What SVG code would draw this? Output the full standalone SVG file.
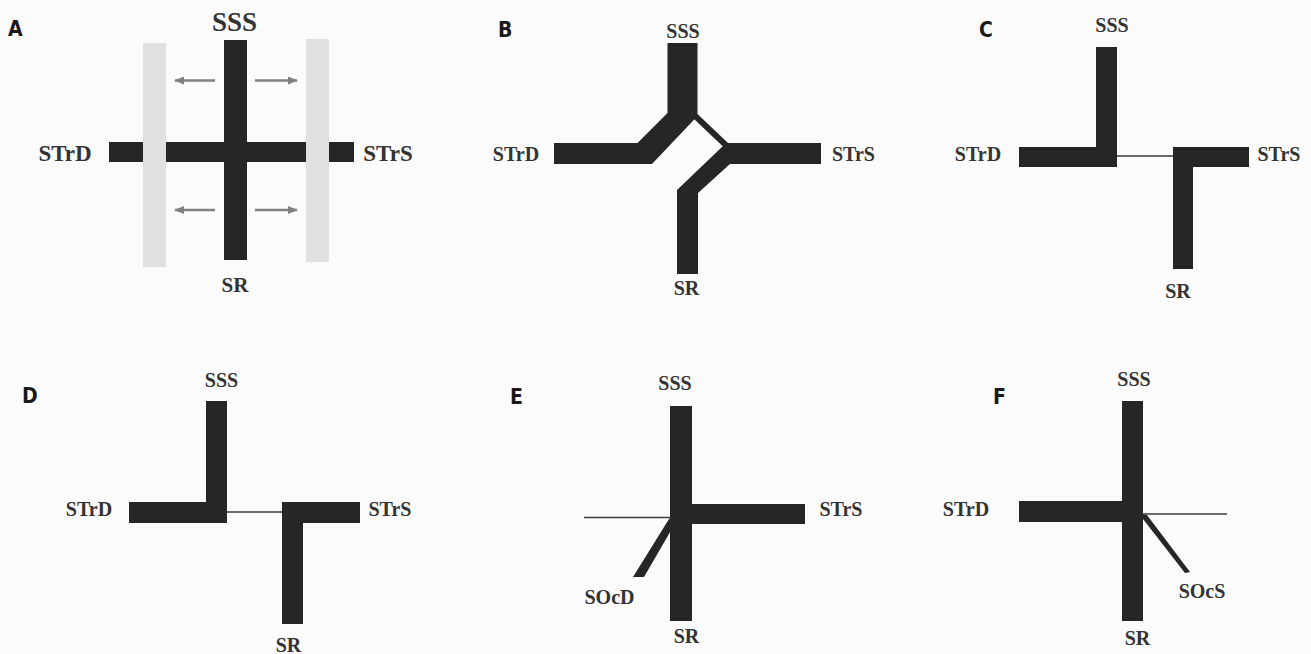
<svg xmlns="http://www.w3.org/2000/svg" width="1311" height="654" viewBox="0 0 1311 654">
  <style>
    .bg { fill: #fbfbfb; }
    .vessel { fill: #262626; }
    .band { fill: #e1e1e3; }
    .thin { stroke: #3a3a3a; stroke-width: 1.6; fill: none; }
    .arrow { stroke: #808080; stroke-width: 2.5; fill: none; marker-end: url(#ah); }
    .panel { font-family: "DejaVu Sans Condensed", "Liberation Sans", sans-serif; font-weight: bold; font-size: 21px; fill: #1a1a1a; }
    .lbl { font-family: "Liberation Serif", "Times New Roman", serif; font-weight: bold; font-size: 20px; fill: #333; text-anchor: middle; }
  </style>
  <defs>
    <marker id="ah" viewBox="0 0 10 8" refX="9" refY="4" markerWidth="10" markerHeight="8" markerUnits="userSpaceOnUse" orient="auto">
      <path d="M0,0 L10,4 L0,8 Z" fill="#808080"/>
    </marker>
  </defs>

  <rect class="bg" x="0" y="0" width="1311" height="654"/>

  <!-- Panel A: confluence crossing with lateral shift -->
  <g id="panelA">
    <text class="panel" x="8" y="36">A</text>
    <g id="A-vessels">
      <rect class="vessel" x="109" y="142" width="245" height="20"/>
      <rect class="vessel" x="224" y="40" width="23" height="220"/>
    </g>
    <g id="A-bands">
      <rect class="band" x="143" y="43" width="23" height="224"/>
      <rect class="band" x="306" y="39" width="23" height="223"/>
    </g>
    <g id="A-arrows">
      <line class="arrow" x1="215" y1="80.5" x2="175" y2="80.5"/>
      <line class="arrow" x1="255" y1="80.5" x2="297" y2="80.5"/>
      <line class="arrow" x1="215" y1="210" x2="175" y2="210"/>
      <line class="arrow" x1="255" y1="210" x2="297" y2="210"/>
    </g>
    <text class="lbl" x="234.5" y="31" style="font-size:27px">SSS</text>
    <text class="lbl" x="65" y="161" style="font-size:23px">STrD</text>
    <text class="lbl" x="388" y="161" style="font-size:23px">STrS</text>
    <text class="lbl" x="235" y="292" style="font-size:21px">SR</text>
  </g>

  <!-- Panel B -->
  <g id="panelB">
    <text class="panel" x="498" y="37">B</text>
    <g id="B-upper">
      <polygon class="vessel" points="667.5,43 697.5,43 697.5,116 652,164 554,164 554,143 637.5,143 667.5,113"/>
    </g>
    <g id="B-lower">
      <polygon class="vessel" points="725,143 821,143 821,164 730,164 698,193 698,274 677,274 677,190 723,146"/>
    </g>
    <g id="B-link">
      <polygon class="vessel" points="694,119 697.5,114 728,143 723.5,147"/>
    </g>
    <text class="lbl" x="683" y="38">SSS</text>
    <text class="lbl" x="516" y="161">STrD</text>
    <text class="lbl" x="853.5" y="161">STrS</text>
    <text class="lbl" x="686.5" y="295">SR</text>
  </g>

  <!-- Panel C -->
  <g id="panelC">
    <text class="panel" x="979" y="37">C</text>
    <g id="C-upper">
      <path class="vessel" d="M1096,47 H1117 V167 H1019 V147 H1096 Z"/>
    </g>
    <g id="C-lower">
      <path class="vessel" d="M1173,147 H1249 V167 H1193 V269 H1173 Z"/>
    </g>
    <text class="lbl" x="1112" y="32">SSS</text>
    <text class="lbl" x="978" y="161">STrD</text>
    <text class="lbl" x="1279" y="161">STrS</text>
    <text class="lbl" x="1178" y="298">SR</text>
  </g>

  <!-- Panel D -->
  <g id="panelD">
    <text class="panel" x="22" y="403">D</text>
    <g id="D-upper">
      <path class="vessel" d="M206,401 H227 V523 H129 V502 H206 Z"/>
    </g>
    <g id="D-lower">
      <path class="vessel" d="M282,502 H360 V523 H303 V624 H282 Z"/>
    </g>
    <text class="lbl" x="221.5" y="387">SSS</text>
    <text class="lbl" x="89" y="516">STrD</text>
    <text class="lbl" x="390" y="516">STrS</text>
    <text class="lbl" x="288.5" y="652">SR</text>
  </g>

  <!-- Panel E -->
  <g id="panelE">
    <text class="panel" x="510" y="404">E</text>
    <g id="E-vessels">
      <rect class="vessel" x="670" y="406" width="22" height="215"/>
      <rect class="vessel" x="692" y="504" width="113" height="20"/>
      <polygon class="vessel" points="669,519 673,517 673,527 644,577 633,577"/>
    </g>
    <text class="lbl" x="675" y="390">SSS</text>
    <text class="lbl" x="841" y="516">STrS</text>
    <text class="lbl" x="609.5" y="604">SOcD</text>
    <text class="lbl" x="686.5" y="643">SR</text>
  </g>

  <!-- Panel F -->
  <g id="panelF">
    <text class="panel" x="993" y="404">F</text>
    <g id="F-vessels">
      <rect class="vessel" x="1122" y="401" width="21" height="220"/>
      <rect class="vessel" x="1019" y="501" width="103" height="21"/>
      <polygon class="vessel" points="1143,514 1147,515 1190,572 1185,573 1143,519"/>
    </g>
    <text class="lbl" x="1134" y="386">SSS</text>
    <text class="lbl" x="966" y="516">STrD</text>
    <text class="lbl" x="1202" y="598">SOcS</text>
    <text class="lbl" x="1137.5" y="645">SR</text>
  </g>

  <!-- thin connecting lines -->
  <g id="connectors">
    <line class="thin" x1="1117" y1="156" x2="1173" y2="156"/>
    <line class="thin" x1="227" y1="512" x2="282" y2="512"/>
    <line class="thin" x1="584" y1="517.5" x2="670" y2="517.5"/>
    <line class="thin" x1="1143" y1="514" x2="1227" y2="514"/>
  </g>
</svg>
